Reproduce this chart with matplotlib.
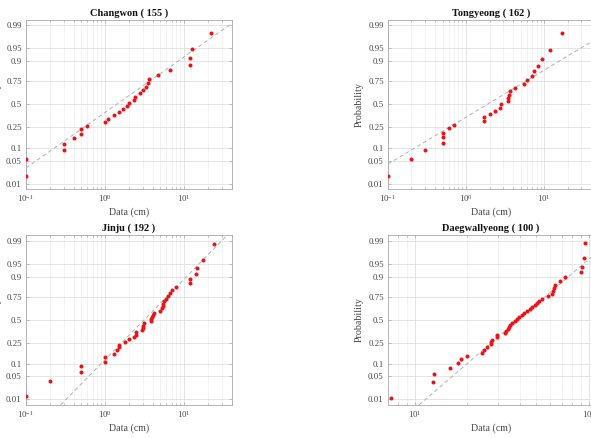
import numpy as np
import matplotlib
matplotlib.use('Agg')
import matplotlib.pyplot as plt
from matplotlib.ticker import LogLocator, NullLocator, NullFormatter
from statistics import NormalDist

plt.rcParams['font.family'] = 'serif'
plt.rcParams['font.serif'] = ['Liberation Serif', 'DejaVu Serif']
plt.rcParams['mathtext.fontset'] = 'custom'
plt.rcParams['mathtext.rm'] = 'Liberation Serif'
plt.rcParams['mathtext.it'] = 'Liberation Serif:italic'

# Snow depth samples (cm)
changwon = [0.1, 0.1, 0.3, 0.3, 0.4, 0.5, 0.5, 0.6, 1.0, 1.1, 1.3, 1.5, 1.7, 1.9,
            2.0, 2.3, 2.4, 2.8, 3.0, 3.3, 3.5, 3.6, 4.7, 6.7, 12, 12, 12.5, 22]
tongyeong = [0.1, 0.2, 0.3, 0.5, 0.5, 0.5, 0.6, 0.7, 1.7, 1.7, 2.0, 2.35, 2.7, 2.8,
             3.4, 3.4, 3.55, 3.7, 4.2, 5.5, 6.0, 6.9, 7.5, 8.3, 9.5, 11.8, 17.2]
jinju = [0.1, 0.2, 0.5, 0.5, 1.0, 1.0, 1.3, 1.4, 1.5, 1.5, 1.8, 2.0, 2.3, 2.5, 2.5,
         2.9, 3.0, 3.0, 3.1, 3.8, 3.8, 3.9, 4.0, 4.2, 4.9, 5.3, 5.4, 5.5, 5.6, 5.9,
         6.2, 6.6, 7.0, 8.0, 12, 12, 14, 14.5, 17.5, 24]
daegwallyeong = [7.3, 12.8, 12.9, 16.0, 17.8, 18.4, 19.9, 24.3, 24.9, 26.1, 27.5,
                 27.6, 27.8, 29.6, 29.8, 32.9, 33.5, 34.2, 34.9, 35.4, 36.2, 37.5,
                 38.6, 39.8, 41.2, 42.6, 44.0, 45.8, 47.2, 48.8, 50.2, 51.6, 53.5,
                 58.0, 61.5, 62.3, 63.0, 63.5, 68.5, 73.3, 90.5, 91.0, 93.5, 95.5]

titles = ['Changwon ( 155 )', 'Tongyeong ( 162 )', 'Jinju ( 192 )', 'Daegwallyeong ( 100 )']
samples = [changwon, tongyeong, jinju, daegwallyeong]
# reference line: median (cm) and slope (z per decade)
ref_median = [1.40, 1.87, 3.09, 39.0]
ref_slope = [1.623, 1.372, 2.371, 4.40]
xlims = [(0.1, 40.5), (0.1, 43.6), (0.1, 40.5), (7.03, 107)]

prob_ticks = [0.01, 0.05, 0.1, 0.25, 0.5, 0.75, 0.9, 0.95, 0.99]
prob_labels = ['0.01', '0.05', '0.1', '0.25', '0.5', '0.75', '0.9', '0.95', '0.99']

nd = NormalDist()
ppf = np.vectorize(lambda p: nd.inv_cdf(min(max(p, 1e-12), 1 - 1e-12)), otypes=[float])
cdf = np.vectorize(nd.cdf, otypes=[float])

W, H = 591, 438
fig = plt.figure(figsize=(W / 100, H / 100), dpi=100)

# axes boxes in pixels: left, top, right, bottom
boxes = [(26, 20, 232, 189), (388, 20, 594, 189),
         (26, 234.7, 232, 405), (388, 234.7, 594, 405)]
ylims = [(-2.475, 2.466), (-2.475, 2.466), (-2.494, 2.52), (-2.494, 2.52)]

text_c = '#444444'
for i in range(4):
    l, t, r, b = boxes[i]
    ax = fig.add_axes([l / W, 1 - b / H, (r - l) / W, (b - t) / H])
    ax.set_xscale('log')
    ax.set_yscale('function', functions=(ppf, cdf))

    x = np.sort(np.array(samples[i], dtype=float))
    n = len(x)
    p = (np.arange(1, n + 1) - 0.5) / n

    x0, x1 = xlims[i]
    xl = np.array([x0, x1])
    zl = ref_slope[i] * (np.log10(xl) - np.log10(ref_median[i]))
    ax.plot(xl, cdf(zl), linestyle=(0, (4, 3)), color='#b0b0b0', linewidth=0.7, zorder=2)
    ax.plot(x, p, 'o', color='#e8141a', markersize=2.9, markeredgewidth=0, zorder=3)

    ax.set_xlim(x0, x1)
    ax.set_ylim(cdf(ylims[i][0]), cdf(ylims[i][1]))
    ax.set_yticks(prob_ticks)
    ax.set_yticklabels(prob_labels)
    ax.yaxis.set_minor_locator(NullLocator())
    ax.xaxis.set_major_locator(LogLocator(base=10))
    ax.xaxis.set_minor_locator(LogLocator(base=10, subs=np.arange(2, 10)))
    ax.xaxis.set_minor_formatter(NullFormatter())

    ax.grid(True, which='major', color='#e0e0e0', linewidth=0.6)
    ax.grid(True, which='minor', axis='x', color='#eeeeee', linewidth=0.5)
    ax.set_axisbelow(True)
    for s in ax.spines.values():
        s.set_color('#a8a8a8')
        s.set_linewidth(0.6)
    ax.tick_params(which='both', direction='in', colors='#a8a8a8', labelcolor=text_c,
                   labelsize=6.3, top=True, right=True, width=0.5)
    ax.tick_params(which='major', length=2.5, pad=3)
    ax.tick_params(which='minor', length=1.5)

    ax.set_title(titles[i], fontsize=7.5, fontweight='bold', pad=3, color='#111111')
    ax.set_xlabel('Data (cm)', fontsize=7.2, color=text_c, labelpad=2)
    ax.set_ylabel('Probability', fontsize=7.2, color=text_c, labelpad=3)

fig.savefig('out.png', dpi=100)
